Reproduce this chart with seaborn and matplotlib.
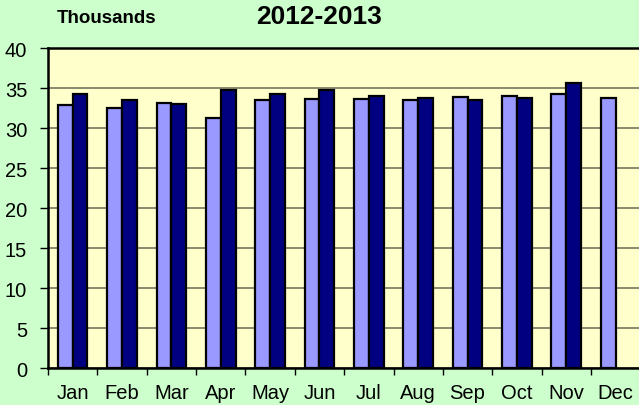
import numpy as np
import pandas as pd
import matplotlib
matplotlib.use("Agg")
import matplotlib.pyplot as plt
import seaborn as sns

# --- data (thousands) ---
months = ['Jan', 'Feb', 'Mar', 'Apr', 'May', 'Jun',
          'Jul', 'Aug', 'Sep', 'Oct', 'Nov', 'Dec']
vals_2012 = [32.9, 32.5, 33.1, 31.3, 33.5, 33.6, 33.6, 33.5, 33.9, 34.0, 34.2, 33.8]
vals_2013 = [34.2, 33.5, 33.0, 34.7, 34.2, 34.7, 34.0, 33.7, 33.5, 33.8, 35.6, None]
years = ['2012', '2013']
yticks = [0, 5, 10, 15, 20, 25, 30, 35, 40]

rows = []
for m, a, b in zip(months, vals_2012, vals_2013):
    rows.append({'Month': m, 'Year': '2012', 'Value': a})
    if b is not None:
        rows.append({'Month': m, 'Year': '2013', 'Value': b})
df = pd.DataFrame(rows)

# --- style ---
sns.set_style("white")
plt.rcParams['font.family'] = ['Liberation Sans', 'DejaVu Sans']
plt.rcParams['text.color'] = 'black'
plt.rcParams['xtick.color'] = 'black'
plt.rcParams['ytick.color'] = 'black'

fig = plt.figure(figsize=(6.39, 4.06), dpi=100, facecolor='#CCFFCC')
ax = fig.add_axes([0.0751, 0.0911, 0.927, 0.7882])
ax.set_facecolor('#FFFFCC')

sns.barplot(data=df, x='Month', y='Value', hue='Year', order=months,
            hue_order=years, palette=['#9999FF', '#000080'], saturation=1,
            width=0.6, gap=0, edgecolor='black', linewidth=1.6,
            errorbar=None, ax=ax, zorder=3)
if ax.get_legend() is not None:
    ax.get_legend().remove()

ax.set_ylim(0, 40)
ax.set_xlim(-0.5, len(months) - 0.5)
ax.set_yticks(yticks)
ax.yaxis.grid(True, color='#808068', linewidth=1.3, zorder=0)
ax.set_axisbelow(True)

# category boundary ticks on x
ax.set_xticks(np.arange(len(months)))
ax.set_xticklabels(months, fontsize=14.5)
ax.set_xticks(np.arange(-0.5, len(months) - 0.4, 1.0), minor=True)
ax.tick_params(axis='x', which='major', length=0, pad=10.5)
ax.tick_params(axis='x', which='minor', length=5, width=1, color='black', direction='out')
ax.tick_params(axis='y', length=6, width=1, color='black', direction='out',
               labelsize=14.5, pad=9)
ax.tick_params(left=True, bottom=True, which='both')

for side in ['top', 'left', 'bottom']:
    ax.spines[side].set_color('black')
    ax.spines[side].set_linewidth(1.8)
ax.spines['right'].set_visible(False)

ax.set_xlabel('')
ax.set_ylabel('')

fig.text(0.166, 0.955, 'Thousands', fontsize=13.5, fontweight='bold',
         ha='center', va='center')
fig.text(0.499, 0.958, '2012-2013', fontsize=19, fontweight='bold',
         ha='center', va='center')

fig.savefig('out.png', dpi=100, facecolor=fig.get_facecolor())
